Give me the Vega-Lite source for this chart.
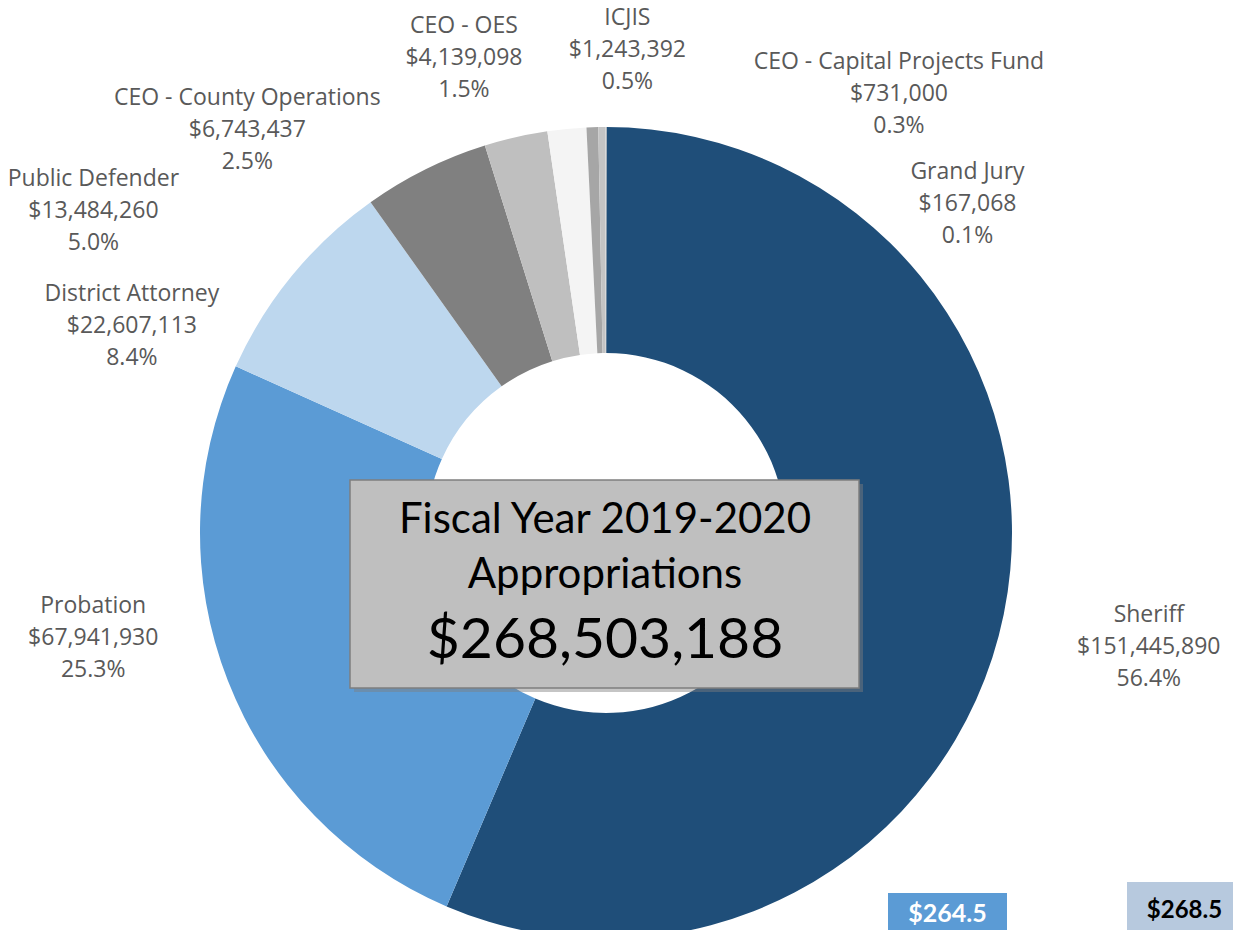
{
  "$schema": "https://vega.github.io/schema/vega-lite/v6.json",
  "width": 1212,
  "height": 794,
  "autosize": {"type": "none"},
  "padding": {"left": 0, "top": 136, "right": 21, "bottom": 0},
  "background": "white",
  "config": {"view": {"stroke": null}},
  "data": {
    "values": [
      {"order": 1, "dept": "Sheriff", "value": 151445890},
      {"order": 2, "dept": "Probation", "value": 67941930},
      {"order": 3, "dept": "District Attorney", "value": 22607113},
      {"order": 4, "dept": "Public Defender", "value": 13484260},
      {"order": 5, "dept": "CEO - County Operations", "value": 6743437},
      {"order": 6, "dept": "CEO - OES", "value": 4139098},
      {"order": 7, "dept": "ICJIS", "value": 1243392},
      {"order": 8, "dept": "CEO - Capital Projects Fund", "value": 731000},
      {"order": 9, "dept": "Grand Jury", "value": 167068}
    ]
  },
  "transform": [
    {"joinaggregate": [{"op": "sum", "field": "value", "as": "total"}]},
    {"stack": "value", "groupby": [], "sort": [{"field": "order"}], "as": ["s0", "s1"]},
    {"calculate": "(datum.s0 + datum.s1) / 2", "as": "mid"},
    {"calculate": "datum.dept + '\\n' + format(datum.value, '$,') + '\\n' + format(datum.value / datum.total, '.1%')", "as": "label"}
  ],
  "layer": [
    {
      "mark": {"type": "arc", "innerRadius": 180, "outerRadius": 406},
      "encoding": {
        "theta": {"field": "s0", "type": "quantitative"},
        "theta2": {"field": "s1"},
        "color": {
          "field": "dept",
          "type": "nominal",
          "legend": null,
          "scale": {
            "domain": ["Sheriff", "Probation", "District Attorney", "Public Defender", "CEO - County Operations", "CEO - OES", "ICJIS", "CEO - Capital Projects Fund", "Grand Jury"],
            "range": ["#1F4E79", "#5B9BD5", "#BDD7EE", "#808080", "#BFBFBF", "#F4F4F4", "#A6A6A6", "#C4C4C4", "#D0D0D0"]
          }
        }
      }
    },
    {
      "transform": [{"filter": "datum.dept === 'Sheriff'"}],
      "mark": {"type": "text", "radius": 549, "thetaOffset": -0.0511, "font": "Open Sans", "fontSize": 23, "lineHeight": 32, "color": "#595959", "align": "center", "baseline": "middle", "lineBreak": "\n"},
      "encoding": {"theta": {"field": "mid", "type": "quantitative"}, "text": {"field": "label"}}
    },
    {
      "transform": [{"filter": "datum.dept === 'Probation'"}],
      "mark": {"type": "text", "radius": 518, "thetaOffset": 0.2300, "font": "Open Sans", "fontSize": 23, "lineHeight": 32, "color": "#595959", "align": "center", "baseline": "middle", "lineBreak": "\n"},
      "encoding": {"theta": {"field": "mid", "type": "quantitative"}, "text": {"field": "label"}}
    },
    {
      "transform": [{"filter": "datum.dept === 'District Attorney'"}],
      "mark": {"type": "text", "radius": 531, "thetaOffset": -0.2206, "font": "Open Sans", "fontSize": 23, "lineHeight": 32, "color": "#595959", "align": "center", "baseline": "middle", "lineBreak": "\n"},
      "encoding": {"theta": {"field": "mid", "type": "quantitative"}, "text": {"field": "label"}}
    },
    {
      "transform": [{"filter": "datum.dept === 'Public Defender'"}],
      "mark": {"type": "text", "radius": 623, "thetaOffset": -0.5056, "font": "Open Sans", "fontSize": 23, "lineHeight": 32, "color": "#595959", "align": "center", "baseline": "middle", "lineBreak": "\n"},
      "encoding": {"theta": {"field": "mid", "type": "quantitative"}, "text": {"field": "label"}}
    },
    {
      "transform": [{"filter": "datum.dept === 'CEO - County Operations'"}],
      "mark": {"type": "text", "radius": 564, "thetaOffset": -0.4653, "font": "Open Sans", "fontSize": 23, "lineHeight": 32, "color": "#595959", "align": "center", "baseline": "middle", "lineBreak": "\n"},
      "encoding": {"theta": {"field": "mid", "type": "quantitative"}, "text": {"field": "label"}}
    },
    {
      "transform": [{"filter": "datum.dept === 'CEO - OES'"}],
      "mark": {"type": "text", "radius": 527, "thetaOffset": -0.1763, "font": "Open Sans", "fontSize": 23, "lineHeight": 32, "color": "#595959", "align": "center", "baseline": "middle", "lineBreak": "\n"},
      "encoding": {"theta": {"field": "mid", "type": "quantitative"}, "text": {"field": "label"}}
    },
    {
      "transform": [{"filter": "datum.dept === 'ICJIS'"}],
      "mark": {"type": "text", "radius": 515, "thetaOffset": 0.0752, "font": "Open Sans", "fontSize": 23, "lineHeight": 32, "color": "#595959", "align": "center", "baseline": "middle", "lineBreak": "\n"},
      "encoding": {"theta": {"field": "mid", "type": "quantitative"}, "text": {"field": "label"}}
    },
    {
      "transform": [{"filter": "datum.dept === 'CEO - Capital Projects Fund'"}],
      "mark": {"type": "text", "radius": 555, "thetaOffset": 0.5665, "font": "Open Sans", "fontSize": 23, "lineHeight": 32, "color": "#595959", "align": "center", "baseline": "middle", "lineBreak": "\n"},
      "encoding": {"theta": {"field": "mid", "type": "quantitative"}, "text": {"field": "label"}}
    },
    {
      "transform": [{"filter": "datum.dept === 'Grand Jury'"}],
      "mark": {"type": "text", "radius": 511, "thetaOffset": 0.7859, "font": "Open Sans", "fontSize": 23, "lineHeight": 32, "color": "#595959", "align": "center", "baseline": "middle", "lineBreak": "\n"},
      "encoding": {"theta": {"field": "mid", "type": "quantitative"}, "text": {"field": "label"}}
    },
    {
      "transform": [{"aggregate": [{"op": "sum", "field": "value", "as": "total"}]}],
      "mark": {"type": "point", "shape": "M-1,-0.4086H1V0.4086H-1Z", "size": 259081, "filled": true, "fill": "#7F7F7F", "opacity": 0.45, "strokeWidth": 0, "xOffset": 2.5, "yOffset": 55},
      "encoding": {}
    },
    {
      "transform": [{"aggregate": [{"op": "sum", "field": "value", "as": "total"}]}],
      "mark": {"type": "point", "shape": "M-1,-0.4086H1V0.4086H-1Z", "size": 259081, "filled": true, "fill": "#BFBFBF", "stroke": "#7F7F7F", "strokeWidth": 1.5, "opacity": 1, "xOffset": -1.5, "yOffset": 51},
      "encoding": {}
    },
    {
      "transform": [{"aggregate": [{"op": "sum", "field": "value", "as": "total"}]}],
      "mark": {"type": "text", "text": ["Fiscal Year 2019-2020", "Appropriations"], "font": "Lato", "fontSize": 42, "lineHeight": 55, "align": "center", "baseline": "alphabetic", "color": "#000000", "xOffset": -1, "yOffset": 0},
      "encoding": {}
    },
    {
      "transform": [{"aggregate": [{"op": "sum", "field": "value", "as": "total"}]}],
      "mark": {"type": "text", "font": "Lato", "fontSize": 57, "align": "center", "baseline": "alphabetic", "color": "#000000", "xOffset": -1, "yOffset": 125},
      "encoding": {"text": {"field": "total", "type": "quantitative", "format": "$,"}}
    },
    {
      "data": {"values": [{"amount": 264.5}]},
      "mark": {"type": "point", "shape": "M-1,-0.479H1V0.479H-1Z", "size": 14161, "filled": true, "fill": "#5B9BD5", "opacity": 1, "strokeWidth": 0, "xOffset": 341.5, "yOffset": 388.5},
      "encoding": {}
    },
    {
      "data": {"values": [{"amount": 264.5}]},
      "mark": {"type": "text", "font": "Lato", "fontWeight": "bold", "fontSize": 25, "color": "#FFFFFF", "align": "center", "baseline": "alphabetic", "xOffset": 341.5, "yOffset": 389},
      "encoding": {"text": {"field": "amount", "type": "quantitative", "format": "$.1f"}}
    },
    {
      "data": {"values": [{"amount": 268.5}]},
      "mark": {"type": "point", "shape": "M-1,-0.5575H1V0.5575H-1Z", "size": 12769, "filled": true, "fill": "#B7C9DE", "opacity": 1, "strokeWidth": 0, "xOffset": 577.5, "yOffset": 380.5},
      "encoding": {}
    },
    {
      "data": {"values": [{"amount": 268.5}]},
      "mark": {"type": "text", "font": "Lato", "fontWeight": "bold", "fontSize": 24, "color": "#000000", "align": "center", "baseline": "alphabetic", "xOffset": 578.5, "yOffset": 385},
      "encoding": {"text": {"field": "amount", "type": "quantitative", "format": "$.1f"}}
    }
  ]
}
